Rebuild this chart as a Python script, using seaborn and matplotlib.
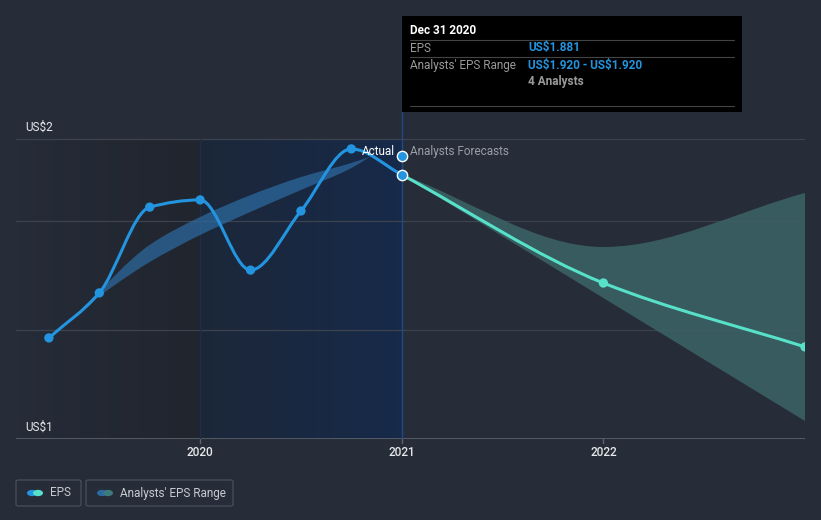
import numpy as np
import pandas as pd
import matplotlib
matplotlib.use("Agg")
import matplotlib.pyplot as plt
from matplotlib.path import Path
from matplotlib.patches import PathPatch, Rectangle, FancyBboxPatch, Circle
import seaborn as sns

# 数据
eps_dates = [2019.25, 2019.5, 2019.75, 2020.0, 2020.25, 2020.5, 2020.75, 2021.0]
eps_values = [1.337, 1.487, 1.773, 1.797, 1.563, 1.760, 1.967, 1.881]

fc_dates = [2021.0, 2022.0, 2023.0]
fc_values = [1.881, 1.52, 1.307]
fc_high = [1.881, 1.64, 1.82]
fc_low = [1.881, 1.47, 1.06]

past_dates = [2019.42, 2019.75, 2020.0, 2020.25, 2020.5, 2020.75, 2020.84]
past_high = [1.44, 1.647, 1.74, 1.813, 1.873, 1.92, 1.94]
past_low = [1.44, 1.59, 1.68, 1.757, 1.83, 1.903, 1.94]

analyst_point = (2021.0, 1.945)  # 图上位置 (提示框写 1.920)
x_ticks = [2020, 2021, 2022]
grid_vals = [1.3633, 1.7267, 2.0]

BG = "#262c38"
BLUE = "#2394df"
TEAL = "#58e1c9"

sns.set_theme(style="dark")
plt.rcParams['font.family'] = ['Roboto', 'DejaVu Sans']

W, H = 821, 520
fig = plt.figure(figsize=(W / 100, H / 100), dpi=100, facecolor=BG)


def px(x, y):
    return x / W, 1 - y / H


# 轴区域: x 16..805, y 16..439
ax = fig.add_axes([16 / W, 1 - 439 / H, (805 - 16) / W, (439 - 16) / H])
ax.set_facecolor(BG)
x0 = 2020 - 184 / 201.5
ytop = 1.0 + 423 / 300
ax.set_xlim(x0, 2023.0)
ax.set_ylim(1.0, ytop)
for s in ax.spines.values():
    s.set_visible(False)


def mono_path(xs, ys):
    xs = np.asarray(xs, float)
    ys = np.asarray(ys, float)
    n = len(xs)
    dx = np.diff(xs)
    d = np.diff(ys) / dx
    m = np.zeros(n)
    m[0], m[-1] = d[0], d[-1]
    for i in range(1, n - 1):
        if d[i - 1] * d[i] <= 0:
            m[i] = 0
        else:
            m[i] = 3 * (dx[i - 1] + dx[i]) / ((2 * dx[i] + dx[i - 1]) / d[i - 1] + (dx[i] + 2 * dx[i - 1]) / d[i])
    verts = [(xs[0], ys[0])]
    for i in range(n - 1):
        h = dx[i] / 3
        verts += [(xs[i] + h, ys[i] + m[i] * h), (xs[i + 1] - h, ys[i + 1] - m[i + 1] * h), (xs[i + 1], ys[i + 1])]
    return verts


def band_patch(xs, hi, lo, **kw):
    up = mono_path(xs, hi)
    dn = mono_path(xs, lo)[::-1]
    verts = up + dn + [up[0]]
    codes = [Path.MOVETO] + [Path.CURVE4] * (len(up) - 1) + [Path.LINETO] + [Path.CURVE4] * (len(dn) - 1) + [Path.CLOSEPOLY]
    return PathPatch(Path(verts, codes), **kw)


def line_patch(xs, ys, **kw):
    v = mono_path(xs, ys)
    codes = [Path.MOVETO] + [Path.CURVE4] * (len(v) - 1)
    return PathPatch(Path(v, codes), fill=False, **kw)


# 背景区域
ax.imshow(np.linspace(0, 1, 50).reshape(1, -1), extent=[x0, 2020.0, 1.0, 2.0], aspect='auto',
          cmap=matplotlib.colors.LinearSegmentedColormap.from_list('l', ['#262c38', '#20252e']), zorder=0)
ax.imshow(np.linspace(0, 1, 50).reshape(1, -1), extent=[2020.0, 2021.0, 1.0, 2.0], aspect='auto',
          cmap=matplotlib.colors.LinearSegmentedColormap.from_list('m', ['#1c2739', '#172a4a']), zorder=0)

for g in grid_vals:
    ax.axhline(g, color="#3d434e", lw=0.9, zorder=1)
ax.axhline(1.0, color="#5e646e", lw=1.2, zorder=1)
ax.plot([2020.0, 2020.0], [1.0, 2.0], color="#1e2e48", lw=1, zorder=1)
ax.plot([2021.0, 2021.0], [1.0, ytop], color="#1f4a86", lw=1, zorder=2)

for t in x_ticks:
    ax.plot([t, t], [1.0, 1.0 - 4 / 300], color="#5e646e", lw=1, clip_on=False)

# 区间带
ax.add_patch(band_patch(past_dates, past_high, past_low, facecolor="#2d6aa0", edgecolor="none", alpha=0.72, zorder=3))
ax.add_patch(band_patch(fc_dates, fc_high, fc_low, facecolor="#3c6467", edgecolor="none", alpha=0.85, zorder=3))

# 线
ax.add_patch(line_patch(eps_dates, eps_values, edgecolor=BLUE, lw=2.2, zorder=4, capstyle='round'))
ax.add_patch(line_patch(fc_dates, fc_values, edgecolor=TEAL, lw=2.2, zorder=4, capstyle='round'))

df_eps = pd.DataFrame({'date': eps_dates[:-1], 'eps': eps_values[:-1]})
sns.scatterplot(data=df_eps, x='date', y='eps', ax=ax, color=BLUE, s=45, edgecolor='none', zorder=5)
df_fc = pd.DataFrame({'date': fc_dates[1:], 'eps': fc_values[1:]})
sns.scatterplot(data=df_fc, x='date', y='eps', ax=ax, color=TEAL, s=45, edgecolor='none', zorder=5)
ax.scatter([eps_dates[-1]], [eps_values[-1]], s=55, color=BLUE, edgecolor='white', linewidth=1, zorder=6)
ax.scatter([analyst_point[0]], [analyst_point[1]], s=55, color=BLUE, edgecolor='white', linewidth=1, zorder=6)

ax.set_xlabel("")
ax.set_ylabel("")
ax.set_xticks([])
ax.set_yticks([])

for t in x_ticks:
    ax.text(t, 1.0 - 13 / 300, str(t), ha='center', va='center', color='#e6e8eb', fontsize=8.5, fontweight='medium')

fig.text(*px(25, 127), "US\\$2", color='#e6e8eb', fontsize=8.5, va='center')
fig.text(*px(25, 427), "US\\$1", color='#e6e8eb', fontsize=8.5, va='center')
fig.text(*px(362, 151), "Actual", color='white', fontsize=8.5, va='center')
fig.text(*px(410, 151), "Analysts Forecasts", color='#9a9fa7', fontsize=8.5, va='center')

# 提示框
fig.patches.append(Rectangle(px(402, 112), 340 / W, 96 / H, transform=fig.transFigure, facecolor='black', edgecolor='none', zorder=10))
for yy in (40, 57, 106):
    fig.lines.append(plt.Line2D([410 / W, 734 / W], [1 - yy / H] * 2, transform=fig.transFigure, color='#444', lw=0.8, zorder=11))
fig.text(*px(410, 31), "Dec 31 2020", color='white', fontsize=8.5, fontweight='bold', va='center', zorder=12)
fig.text(*px(410, 48), "EPS", color='#9a9a9a', fontsize=8.5, va='center', zorder=12)
fig.text(*px(528, 48), "US\\$1.881", color=BLUE, fontsize=8.5, fontweight='bold', va='center', zorder=12)
fig.text(*px(410, 65), "Analysts' EPS Range", color='#9a9a9a', fontsize=8.5, va='center', zorder=12)
fig.text(*px(528, 65), "US\\$1.920 - US\\$1.920", color=BLUE, fontsize=8.5, fontweight='bold', va='center', zorder=12)
fig.text(*px(528, 81), "4 Analysts", color='#9a9a9a', fontsize=8.5, fontweight='bold', va='center', zorder=12)

# 图例
for bx, bw in ((16, 65), (86, 147)):
    fig.patches.append(FancyBboxPatch(px(bx, 506), bw / W, 26 / H, boxstyle="round,pad=0,rounding_size=0.003",
                                      transform=fig.transFigure, facecolor='none', edgecolor='#4a505b', lw=0.9))
for cx, col in ((32, BLUE), (38, TEAL), (102, "#2a6aa3"), (108, "#3c7a7c")):
    fig.patches.append(Circle(px(cx, 493), 5 / W, transform=fig.transFigure, facecolor=col, edgecolor='none'))
fig.text(*px(50, 493), "EPS", color='#c8cbd0', fontsize=8.5, va='center')
fig.text(*px(120, 493), "Analysts' EPS Range", color='#c8cbd0', fontsize=8.5, va='center')

fig.savefig("out.png", dpi=100, facecolor=BG)
